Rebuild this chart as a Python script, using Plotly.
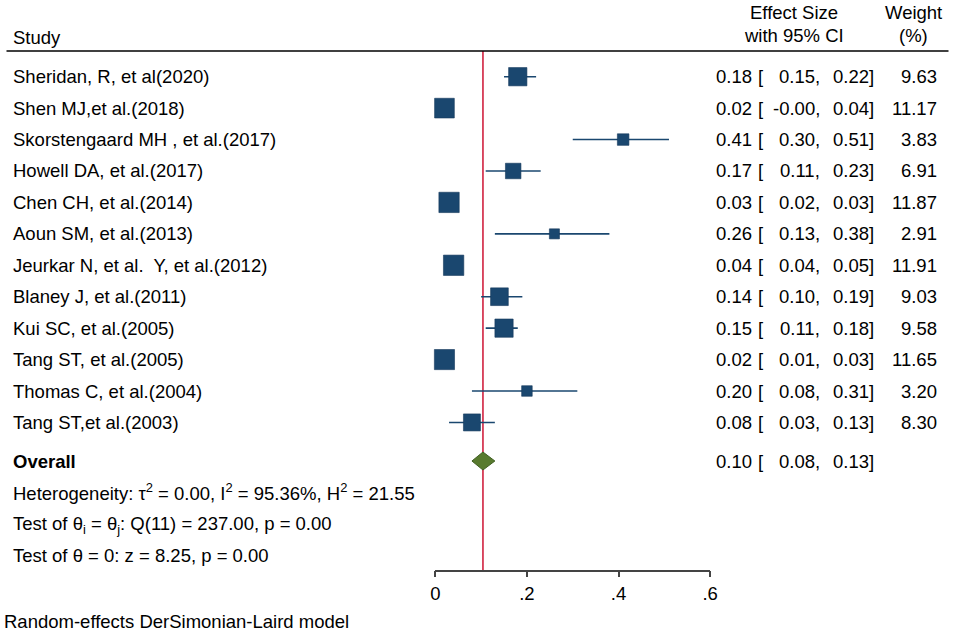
import plotly.graph_objects as go

# data
studies = [
    "Sheridan, R, et al(2020)",
    "Shen MJ,et al.(2018)",
    "Skorstengaard MH , et al.(2017)",
    "Howell DA, et al.(2017)",
    "Chen CH, et al.(2014)",
    "Aoun SM, et al.(2013)",
    "Jeurkar N, et al.  Y, et al.(2012)",
    "Blaney J, et al.(2011)",
    "Kui SC, et al.(2005)",
    "Tang ST, et al.(2005)",
    "Thomas C, et al.(2004)",
    "Tang ST,et al.(2003)",
]
es = [0.18, 0.02, 0.41, 0.17, 0.03, 0.26, 0.04, 0.14, 0.15, 0.02, 0.20, 0.08]
ci_lo = [0.15, -0.004, 0.30, 0.11, 0.02, 0.13, 0.04, 0.10, 0.11, 0.01, 0.08, 0.03]
ci_hi = [0.22, 0.04, 0.51, 0.23, 0.03, 0.38, 0.05, 0.19, 0.18, 0.03, 0.31, 0.13]
weights = [9.63, 11.17, 3.83, 6.91, 11.87, 2.91, 11.91, 9.03, 9.58, 11.65, 3.20, 8.30]

overall_es = 0.104
overall_lo = 0.08
overall_hi = 0.13

tick_vals = [0, 0.2, 0.4, 0.6]
tick_text = ["0", ".2", ".4", ".6"]

W, H = 957, 631
FONT = "Liberation Sans, Arial, sans-serif"
FS = 18.5
NAVY = "#1a476f"

# vertical layout in pixels (y axis runs in pixel units, top = 0)
ROW0, ROW_H = 76.7, 31.43
rows = [ROW0 + i * ROW_H for i in range(len(studies))]
Y_OVERALL = 461
Y_HET = 492
Y_T1 = 524.5
Y_T2 = 555
Y_NOTE = 621.5
Y_RULE = 51
Y_AXIS = 570.7

# forest panel horizontal placement
X0_PX, X6_PX = 436.8, 711.7

# the page draws the paper a bit narrower than asked (about 6.5px in on each
# side), so map wanted screen px -> paper fraction with that in mind
PAD_X = 6.5


def px(x):
    return (x - PAD_X) / (W - 2 * PAD_X)


fig = go.Figure()

# CI whiskers (one broken line), drawn under the squares
wx, wy = [], []
for l, h, y in zip(ci_lo, ci_hi, rows):
    wx += [l, h, None]
    wy += [y, y, None]
fig.add_trace(go.Scatter(
    x=wx, y=wy, mode="lines", line=dict(color=NAVY, width=1.6),
    hoverinfo="skip", showlegend=False,
))

# weight-scaled squares
fig.add_trace(go.Scatter(
    x=es, y=rows, mode="markers",
    marker=dict(symbol="square", size=[5.9 * w ** 0.5 for w in weights],
                color=NAVY, opacity=1, line=dict(color="#15395c", width=0.6)),
    cliponaxis=False, hoverinfo="skip", showlegend=False,
))

# overall diamond
dh = 9
fig.add_trace(go.Scatter(
    x=[overall_lo, overall_es, overall_hi, overall_es, overall_lo],
    y=[Y_OVERALL, Y_OVERALL - dh, Y_OVERALL, Y_OVERALL + dh, Y_OVERALL],
    mode="lines", fill="toself", fillcolor="#587a2e",
    line=dict(color="#3f5f22", width=1),
    hoverinfo="skip", showlegend=False,
))

# reference line at pooled estimate
fig.add_shape(type="line", xref="x", yref="y",
              x0=overall_es, x1=overall_es, y0=Y_RULE, y1=Y_AXIS,
              line=dict(color="#d0213f", width=1.6), layer="below")
# header rule
fig.add_shape(type="line", xref="paper", yref="y",
              x0=px(8), x1=px(950), y0=Y_RULE, y1=Y_RULE,
              line=dict(color="black", width=1.6))

ann = []


def txt(x, y, s, anchor="left", bold=False):
    ann.append(dict(x=px(x), y=y, xref="paper", yref="y", text=f"<b>{s}</b>" if bold else s,
                    xanchor=anchor, yanchor="middle", showarrow=False,
                    font=dict(family=FONT, size=FS, color="black")))


# headers
txt(12.5, 37, "Study")
txt(795, 12.5, "Effect Size", "center")
txt(795, 35, "with 95% CI", "center")
txt(915, 12.5, "Weight", "center")
txt(915, 35, "(%)", "center")


def ci_cols(y, e, l, h):
    txt(755, y, f"{e:.2f}", "right")
    txt(757, y, "[")
    txt(823, y, f"{l:.2f},", "right")
    txt(877, y, f"{h:.2f}]", "right")


for name, y, e, l, h, w in zip(studies, rows, es, ci_lo, ci_hi, weights):
    txt(12.5, y, name)
    ci_cols(y, e, l, h)
    txt(940, y, f"{w:.2f}", "right")

txt(12.5, Y_OVERALL, "Overall", bold=True)
ci_cols(Y_OVERALL, overall_es, overall_lo, overall_hi)
txt(12.5, Y_HET, "Heterogeneity: τ<sup>2</sup> = 0.00, I<sup>2</sup> = 95.36%, H<sup>2</sup> = 21.55")
txt(12.5, Y_T1, "Test of θ<sub>i</sub> = θ<sub>j</sub>: Q(11) = 237.00, p = 0.00")
txt(12.5, Y_T2, "Test of θ = 0: z = 8.25, p = 0.00")
txt(3.3, Y_NOTE, "Random-effects DerSimonian-Laird model")

fig.update_layout(
    width=W, height=H,
    margin=dict(l=0, r=0, t=0, b=0),
    paper_bgcolor="white", plot_bgcolor="white",
    annotations=ann,
    xaxis=dict(domain=[px(X0_PX), px(X6_PX)], range=[0, 0.6],
               anchor="free", position=1 - Y_AXIS / H,
               showline=True, linecolor="#444", linewidth=1.5,
               ticks="outside", ticklen=6, tickwidth=1.5, tickcolor="#444",
               tickvals=tick_vals, ticktext=tick_text,
               tickfont=dict(family=FONT, size=FS, color="black"),
               showgrid=False, zeroline=False, fixedrange=True),
    yaxis=dict(domain=[0, 1], range=[H, 0], visible=False,
               showgrid=False, zeroline=False, fixedrange=True),
)

# page body has a default 8px margin; drop it so the figure sits at the corner
fig.write_html("out.html", config={"displayModeBar": False},
               post_script="document.body.style.margin='0';")
